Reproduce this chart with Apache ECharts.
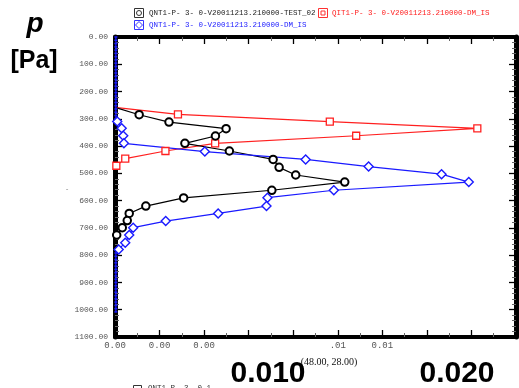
<!DOCTYPE html>
<html><head><meta charset="utf-8">
<script src="https://cdn.jsdelivr.net/npm/echarts@6/dist/echarts.min.js"></script>
<style>html,body{margin:0;padding:0;background:#fff}#c{width:519px;height:388px}</style>
</head><body><div id="c"></div>
<script>
// ---- data ----
const xTickLabels = ['0.00','0.00','0.00','','','.01','0.01','','',''];
const yTickValues = [0,100,200,300,400,500,600,700,800,900,1000,1100];

const seriesNames = [
  'QNT1-P- 3- 0-V20011213.210000-TEST_02',
  'QIT1-P- 3- 0-V20011213.210000-DM_IS',
  'QNT1-P- 3- 0-V20011213.210000-DM_IS'
];

const blackP = [258,285,312,336,363,390,418,449,478,506,532,562,590,620,647,673,699,726,745];
const blackV = [0,0.000542,0.001212,0.002493,0.002254,0.001569,0.002567,0.003549,0.003683,0.004056,0.005156,0.00352,0.00154,0.000692,0.000319,0.000275,0.000163,0.000038,0];

const redP = [258,284,310,335,362,390,418,446,472];
const redV = [0,0.001413,0.004821,0.008132,0.005413,0.002248,0.001132,0.00023,0.00003];

const blueTopP = [0,12,24,36,48,60,72,84,96,108,120,132,144,156,168,180,192,204,216,228,240,252,264,276,288,300];
const blueTopV = [0.00002,0.00002,0.00002,0.00002,0.00002,0.00002,0.00002,0.00002,0.00002,0.00002,0.00002,0.00002,0.00002,0.00002,0.00002,0.00002,0.00002,0.00002,0.00002,0.00002,0.00002,0.00002,0.00002,0.00002,0.00002,0.00002];
const blueP = [310,335,362,390,420,449,475,503,532,562,589,620,647,675,699,726,754,779];
const blueV = [0.00005,0.00015,0.000185,0.0002,0.002016,0.004279,0.005692,0.007329,0.00794,0.004911,0.003422,0.0034,0.002315,0.001138,0.000408,0.000319,0.00023,0.000083];
const blueBotP = [792,804,816,828,840,852,864,876,888,900,912,924,936,948,960,972,984,996,1008];
const blueBotV = [0.00002,0.00002,0.00002,0.00002,0.00002,0.00002,0.00002,0.00002,0.00002,0.00002,0.00002,0.00002,0.00002,0.00002,0.00002,0.00002,0.00002,0.00002,0.00002];

// ---- build ----
function pts(vs, ps){ return vs.map((v,i)=>[v, ps[i]]); }
const blackData = pts(blackV, blackP).map((d,i)=> (i===0||i===blackV.length-1) ? {value:d, symbolSize:0} : d);
const redData = pts(redV, redP).map((d,i)=> i===0 ? {value:d, symbolSize:0} : d);
const tiny = d=>({value:d, symbol:'rect', symbolSize:[3,1.5], itemStyle:{color:'#1a1aff', borderWidth:0}});
const blueData = []
  .concat(pts(blueTopV, blueTopP).map(tiny))
  .concat(pts(blueV, blueP))
  .concat(pts(blueBotV, blueBotP).map(tiny));

const monoFont = '"Liberation Mono","DejaVu Sans Mono",monospace';
const tickStyle = {color:'#000', width:1.3};
const minorStyle = {color:'#666', width:1};

function xAx(pos, showLabel){
  return {
    type:'value', position:pos, min:0, max:0.009, interval:0.001,
    axisLine:{show:true, onZero:false, lineStyle:{color:'#000', width:4}},
    axisTick:{show:true, inside:true, length:7, lineStyle:tickStyle},
    minorTick:{show:true, splitNumber:2, length:4, lineStyle:minorStyle},
    splitLine:{show:false},
    axisLabel:{show:showLabel, margin:4, fontFamily:monoFont, fontSize:9, color:'#555',
      formatter:(v)=>{const i=Math.round(v/0.001); return xTickLabels[i]||'';}}
  };
}
function yAx(pos, showLabel){
  return {
    type:'value', position:pos, inverse:true, min:0, max:1100, interval:100,
    axisLine:{show:true, onZero:false, lineStyle:{color:'#000', width:5}},
    axisTick:{show:true, inside:true, length:7, lineStyle:tickStyle},
    minorTick:{show:true, splitNumber:5, length:4, lineStyle:minorStyle},
    splitLine:{show:false},
    axisLabel:{show:showLabel, margin:7, fontFamily:monoFont, fontSize:8, color:'#555',
      formatter:(v)=> yTickValues.indexOf(v)>=0 ? v.toFixed(2) : ''}
  };
}

function lineSeries(name, data, color, symbol, size, bw){
  return {
    name, type:'line', data, xAxisIndex:0, yAxisIndex:0,
    symbol, symbolSize:size, showAllSymbol:true,
    lineStyle:{color, width:1.2},
    itemStyle:{color:'#fff', borderColor:color, borderWidth:bw},
    emphasis:{disabled:true}, animation:false, z:3
  };
}

const chart = echarts.init(document.getElementById('c'), null, {renderer:'canvas'});
chart.setOption({
  animation:false,
  backgroundColor:'#fff',
  grid:{left:115, right:3, top:37, bottom:51},
  xAxis:[xAx('bottom', true), xAx('top', false)],
  yAxis:[yAx('left', true), yAx('right', false)],
  series:[
    lineSeries(seriesNames[1], redData, '#ff2020', 'rect', 7, 1.3),
    lineSeries(seriesNames[0], blackData, '#000000', 'circle', 7.5, 2),
    lineSeries(seriesNames[2], blueData, '#1a1aff', 'diamond', 9, 1.4)
  ],
  graphic:[
    // legend row 1
    {type:'rect', shape:{x:134.5,y:8.5,width:9,height:9}, style:{fill:'#fff', stroke:'#333', lineWidth:1}},
    {type:'circle', shape:{cx:139,cy:13,r:2.5}, style:{fill:'none', stroke:'#333', lineWidth:1}},
    {type:'text', x:149, y:13, style:{text:seriesNames[0], fill:'#222', font:'7.5px '+monoFont, verticalAlign:'middle'}},
    {type:'rect', shape:{x:318.5,y:8.5,width:9,height:9}, style:{fill:'#fff', stroke:'#ff3030', lineWidth:1}},
    {type:'rect', shape:{x:321,y:11,width:4,height:4}, style:{fill:'none', stroke:'#ff3030', lineWidth:1}},
    {type:'text', x:332, y:13, style:{text:seriesNames[1], fill:'#ff2020', font:'7.5px '+monoFont, verticalAlign:'middle'}},
    // legend row 2
    {type:'rect', shape:{x:134.5,y:20.5,width:9,height:9}, style:{fill:'#fff', stroke:'#3333ff', lineWidth:1}},
    {type:'polygon', shape:{points:[[139,21.5],[142.5,25],[139,28.5],[135.5,25]]}, style:{fill:'none', stroke:'#3333ff', lineWidth:1}},
    {type:'text', x:149, y:25, style:{text:seriesNames[2], fill:'#2222ff', font:'7.5px '+monoFont, verticalAlign:'middle'}},
    // y axis title
    {type:'text', x:35, y:24, style:{text:'p', fill:'#000', font:'italic bold 28px "Liberation Sans",Arial,sans-serif', align:'center', verticalAlign:'middle'}},
    {type:'text', x:34, y:61, style:{text:'[Pa]', fill:'#000', font:'bold 25px "Liberation Sans",Arial,sans-serif', align:'center', verticalAlign:'middle'}},
    {type:'text', x:67, y:189, style:{text:'-', fill:'#888', font:'7px '+monoFont, align:'center', verticalAlign:'middle'}},
    // bottom texts
    {type:'text', x:329, y:362, style:{text:'(48.00, 28.00)', fill:'#111', font:'10px "Liberation Serif","Times New Roman",serif', align:'center', verticalAlign:'middle'}},
    {type:'text', x:268, y:374, style:{text:'0.010', fill:'#000', font:'bold 30px "Liberation Sans",Arial,sans-serif', align:'center', verticalAlign:'middle'}},
    {type:'text', x:457, y:374, style:{text:'0.020', fill:'#000', font:'bold 30px "Liberation Sans",Arial,sans-serif', align:'center', verticalAlign:'middle'}},
    {type:'rect', shape:{x:133.5,y:385.5,width:8,height:8}, style:{fill:'#fff', stroke:'#333', lineWidth:1}},
    {type:'text', x:148, y:384, style:{text:'QNT1-P- 3- 0-1', fill:'#333', font:'7.5px '+monoFont, verticalAlign:'top'}}
  ]
});
</script></body></html>
